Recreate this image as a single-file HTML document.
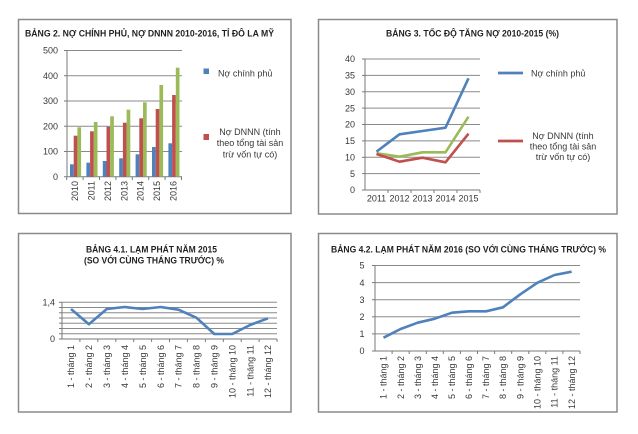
<!DOCTYPE html>
<html>
<head>
<meta charset="utf-8">
<style>
html,body{margin:0;padding:0;background:#fff;}
svg{display:block;}
text{font-family:"Liberation Sans","DejaVu Sans",sans-serif;}
.t{font-weight:bold;fill:#231f20;font-size:9.5px;}
.k{fill:#383838;font-size:9px;}
.g{stroke:#8a8a8a;stroke-width:1;}
.a{stroke:#7a7a7a;stroke-width:1;}
.b{fill:none;stroke:#8a8a8a;stroke-width:1.5;}
</style>
</head>
<body>
<svg width="638" height="434" viewBox="0 0 638 434" xmlns="http://www.w3.org/2000/svg">
<rect width="638" height="434" fill="#fff"/>

<!-- ================= PANEL 1 ================= -->
<rect class="b" x="18.5" y="19.5" width="272.5" height="194"/>
<text class="t" x="25" y="36.5" textLength="249" lengthAdjust="spacingAndGlyphs">BẢNG 2. NỢ CHÍNH PHỦ, NỢ DNNN 2010-2016, TỈ ĐÔ LA MỸ</text>
<g>
<line class="g" x1="67" y1="50.5" x2="182" y2="50.5"/>
<line class="g" x1="67" y1="75.7" x2="182" y2="75.7"/>
<line class="g" x1="67" y1="101" x2="182" y2="101"/>
<line class="g" x1="67" y1="126.2" x2="182" y2="126.2"/>
<line class="g" x1="67" y1="151.5" x2="182" y2="151.5"/>
<line class="a" x1="64" y1="176.7" x2="182" y2="176.7"/>
<line class="a" x1="67" y1="50.5" x2="67" y2="176.7"/>
<line class="a" x1="64" y1="50.5" x2="67" y2="50.5"/>
<line class="a" x1="64" y1="75.7" x2="67" y2="75.7"/>
<line class="a" x1="64" y1="101" x2="67" y2="101"/>
<line class="a" x1="64" y1="126.2" x2="67" y2="126.2"/>
<line class="a" x1="64" y1="151.5" x2="67" y2="151.5"/>
</g>
<g class="a">
<line x1="66.7" y1="176.7" x2="66.7" y2="180"/>
<line x1="83.1" y1="176.7" x2="83.1" y2="180"/>
<line x1="99.5" y1="176.7" x2="99.5" y2="180"/>
<line x1="115.9" y1="176.7" x2="115.9" y2="180"/>
<line x1="132.3" y1="176.7" x2="132.3" y2="180"/>
<line x1="148.7" y1="176.7" x2="148.7" y2="180"/>
<line x1="165.1" y1="176.7" x2="165.1" y2="180"/>
<line x1="181.5" y1="176.7" x2="181.5" y2="180"/>
</g>
<g class="k" text-anchor="end">
<text x="58" y="53.7">500</text>
<text x="58" y="78.9">400</text>
<text x="58" y="104.2">300</text>
<text x="58" y="129.4">200</text>
<text x="58" y="154.7">100</text>
<text x="58" y="179.9">0</text>
</g>
<g fill="#4f81bd">
<rect x="70.0" y="164.3" width="3.7" height="12.4"/>
<rect x="86.4" y="162.7" width="3.7" height="14.0"/>
<rect x="102.8" y="161.0" width="3.7" height="15.7"/>
<rect x="119.2" y="158.3" width="3.7" height="18.4"/>
<rect x="135.6" y="154.3" width="3.7" height="22.4"/>
<rect x="152.0" y="147.0" width="3.7" height="29.7"/>
<rect x="168.4" y="143.3" width="3.7" height="33.4"/>
</g>
<g fill="#c0504d">
<rect x="73.7" y="135.7" width="3.7" height="41.0"/>
<rect x="90.1" y="131.3" width="3.7" height="45.4"/>
<rect x="106.5" y="126.7" width="3.7" height="50.0"/>
<rect x="122.9" y="122.7" width="3.7" height="54.0"/>
<rect x="139.3" y="118.3" width="3.7" height="58.4"/>
<rect x="155.7" y="109.0" width="3.7" height="67.7"/>
<rect x="172.1" y="95.0" width="3.7" height="81.7"/>
</g>
<g fill="#9bbb59">
<rect x="77.4" y="127.3" width="3.7" height="49.4"/>
<rect x="93.8" y="122.0" width="3.7" height="54.7"/>
<rect x="110.2" y="116.3" width="3.7" height="60.4"/>
<rect x="126.6" y="109.7" width="3.7" height="67.0"/>
<rect x="143.0" y="102.3" width="3.7" height="74.4"/>
<rect x="159.4" y="85.0" width="3.7" height="91.7"/>
<rect x="175.8" y="67.7" width="3.7" height="109.0"/>
</g>
<g class="k" text-anchor="end">
<text transform="translate(78.1,181) rotate(-90)">2010</text>
<text transform="translate(94.5,181) rotate(-90)">2011</text>
<text transform="translate(110.9,181) rotate(-90)">2012</text>
<text transform="translate(127.3,181) rotate(-90)">2013</text>
<text transform="translate(143.7,181) rotate(-90)">2014</text>
<text transform="translate(160.1,181) rotate(-90)">2015</text>
<text transform="translate(176.5,181) rotate(-90)">2016</text>
</g>
<rect x="203.5" y="68.5" width="5.5" height="5.5" fill="#4f81bd"/>
<text class="k" x="218" y="76.3">Nợ chính phủ</text>
<rect x="203.5" y="134" width="5.5" height="6" fill="#c0504d"/>
<g class="k" text-anchor="middle">
<text x="250" y="134.8">Nợ DNNN (tính</text>
<text x="250" y="146">theo tổng tài sản</text>
<text x="250" y="157.4">trừ vốn tự có)</text>
</g>

<!-- ================= PANEL 2 ================= -->
<rect class="b" x="318.5" y="19.5" width="298.5" height="194.5"/>
<text class="t" x="386" y="36.5" textLength="173" lengthAdjust="spacingAndGlyphs">BẢNG 3. TỐC ĐỘ TĂNG NỢ 2010-2015 (%)</text>
<g>
<line class="g" x1="365" y1="59" x2="480" y2="59"/>
<line class="g" x1="365" y1="75.4" x2="480" y2="75.4"/>
<line class="g" x1="365" y1="91.8" x2="480" y2="91.8"/>
<line class="g" x1="365" y1="108.1" x2="480" y2="108.1"/>
<line class="g" x1="365" y1="124.5" x2="480" y2="124.5"/>
<line class="g" x1="365" y1="140.9" x2="480" y2="140.9"/>
<line class="g" x1="365" y1="157.3" x2="480" y2="157.3"/>
<line class="g" x1="365" y1="173.6" x2="480" y2="173.6"/>
<line class="a" x1="362" y1="190" x2="480" y2="190"/>
<line class="a" x1="365" y1="59" x2="365" y2="190"/>
</g>
<g class="a">
<line x1="362" y1="59" x2="365" y2="59"/>
<line x1="362" y1="75.4" x2="365" y2="75.4"/>
<line x1="362" y1="91.8" x2="365" y2="91.8"/>
<line x1="362" y1="108.1" x2="365" y2="108.1"/>
<line x1="362" y1="124.5" x2="365" y2="124.5"/>
<line x1="362" y1="140.9" x2="365" y2="140.9"/>
<line x1="362" y1="157.3" x2="365" y2="157.3"/>
<line x1="362" y1="173.6" x2="365" y2="173.6"/>
<line x1="388" y1="190" x2="388" y2="193"/>
<line x1="411" y1="190" x2="411" y2="193"/>
<line x1="434" y1="190" x2="434" y2="193"/>
<line x1="457" y1="190" x2="457" y2="193"/>
<line x1="480" y1="190" x2="480" y2="193"/>
</g>
<g class="k" text-anchor="end">
<text x="355" y="62.2">40</text>
<text x="355" y="78.6">35</text>
<text x="355" y="95">30</text>
<text x="355" y="111.3">25</text>
<text x="355" y="127.7">20</text>
<text x="355" y="144.1">15</text>
<text x="355" y="160.5">10</text>
<text x="355" y="176.8">5</text>
<text x="355" y="193.2">0</text>
</g>
<g class="k" text-anchor="middle">
<text x="376.5" y="201.3">2011</text>
<text x="399.5" y="201.3">2012</text>
<text x="422.5" y="201.3">2013</text>
<text x="445.5" y="201.3">2014</text>
<text x="468.5" y="201.3">2015</text>
</g>
<polyline fill="none" stroke="#9bbb59" stroke-width="2.6" stroke-linejoin="round" points="376.5,153.3 399.5,156.7 422.5,152.3 445.5,152.3 468.5,116.7"/>
<polyline fill="none" stroke="#c0504d" stroke-width="2.6" stroke-linejoin="round" points="376.5,154 399.5,161.7 422.5,157.7 445.5,162.3 468.5,133.7"/>
<polyline fill="none" stroke="#4f81bd" stroke-width="2.6" stroke-linejoin="round" points="376.5,151.7 399.5,134.3 422.5,131 445.5,127.7 468.5,78.3"/>
<line x1="498" y1="73" x2="523" y2="73" stroke="#4f81bd" stroke-width="2.8"/>
<text class="k" x="531" y="76.3">Nợ chính phủ</text>
<line x1="498" y1="141" x2="523" y2="141" stroke="#c0504d" stroke-width="2.8"/>
<g class="k" text-anchor="middle">
<text x="563" y="139.2">Nợ DNNN (tính</text>
<text x="563" y="149.6">theo tổng tài sản</text>
<text x="563" y="160">trừ vốn tự có)</text>
</g>

<!-- ================= PANEL 3 ================= -->
<rect class="b" x="18.5" y="233.5" width="272.5" height="178.5"/>
<text class="t" x="86" y="252.5" textLength="131" lengthAdjust="spacingAndGlyphs">BẢNG 4.1. LẠM PHÁT NĂM 2015</text>
<text class="t" x="84" y="263.5" textLength="140" lengthAdjust="spacingAndGlyphs">(SO VỚI CÙNG THÁNG TRƯỚC) %</text>
<g>
<line class="g" x1="62" y1="302.3" x2="277" y2="302.3"/>
<line class="g" x1="62" y1="307.5" x2="277" y2="307.5"/>
<line class="g" x1="62" y1="312.8" x2="277" y2="312.8"/>
<line class="g" x1="62" y1="318" x2="277" y2="318"/>
<line class="g" x1="62" y1="323.2" x2="277" y2="323.2"/>
<line class="g" x1="62" y1="328.5" x2="277" y2="328.5"/>
<line class="g" x1="62" y1="333.8" x2="277" y2="333.8"/>
<line class="a" x1="59" y1="339" x2="277" y2="339"/>
<line class="a" x1="62" y1="302.3" x2="62" y2="339"/>
</g>
<g class="a">
<line x1="59" y1="302.3" x2="62" y2="302.3"/>
<line x1="59" y1="307.5" x2="62" y2="307.5"/>
<line x1="59" y1="312.8" x2="62" y2="312.8"/>
<line x1="59" y1="318" x2="62" y2="318"/>
<line x1="59" y1="323.2" x2="62" y2="323.2"/>
<line x1="59" y1="328.5" x2="62" y2="328.5"/>
<line x1="59" y1="333.8" x2="62" y2="333.8"/>
<line x1="79.9" y1="339" x2="79.9" y2="342"/>
<line x1="97.8" y1="339" x2="97.8" y2="342"/>
<line x1="115.8" y1="339" x2="115.8" y2="342"/>
<line x1="133.7" y1="339" x2="133.7" y2="342"/>
<line x1="151.6" y1="339" x2="151.6" y2="342"/>
<line x1="169.5" y1="339" x2="169.5" y2="342"/>
<line x1="187.4" y1="339" x2="187.4" y2="342"/>
<line x1="205.4" y1="339" x2="205.4" y2="342"/>
<line x1="223.3" y1="339" x2="223.3" y2="342"/>
<line x1="241.2" y1="339" x2="241.2" y2="342"/>
<line x1="259.1" y1="339" x2="259.1" y2="342"/>
<line x1="277" y1="339" x2="277" y2="342"/>
</g>
<g class="k" text-anchor="end">
<text x="55" y="305.5">1,4</text>
<text x="55" y="342.2">0</text>
</g>
<g class="k" text-anchor="end">
<text transform="translate(74.2,345) rotate(-90)">1 - tháng 1</text>
<text transform="translate(92.1,345) rotate(-90)">2 - tháng 2</text>
<text transform="translate(110,345) rotate(-90)">3 - tháng 3</text>
<text transform="translate(127.9,345) rotate(-90)">4 - tháng 4</text>
<text transform="translate(145.8,345) rotate(-90)">5 - tháng 5</text>
<text transform="translate(163.8,345) rotate(-90)">6 - tháng 6</text>
<text transform="translate(181.7,345) rotate(-90)">7 - tháng 7</text>
<text transform="translate(199.6,345) rotate(-90)">8 - tháng 8</text>
<text transform="translate(217.5,345) rotate(-90)">9 - tháng 9</text>
<text transform="translate(235.4,345) rotate(-90)">10 - tháng 10</text>
<text transform="translate(253.3,345) rotate(-90)">11 - tháng 11</text>
<text transform="translate(271.2,345) rotate(-90)">12 - tháng 12</text>
</g>
<polyline fill="none" stroke="#4f81bd" stroke-width="2.6" stroke-linejoin="round" points="71,309 88.9,324.3 106.8,309 124.7,307 142.6,309 160.6,307 178.5,309.7 196.4,317.7 214.3,334 232.2,334 250.1,325 268,318.3"/>

<!-- ================= PANEL 4 ================= -->
<rect class="b" x="318.5" y="233.5" width="298.5" height="178.5"/>
<text class="t" x="331" y="252.5" textLength="275" lengthAdjust="spacingAndGlyphs">BẢNG 4.2. LẠM PHÁT NĂM 2016 (SO VỚI CÙNG THÁNG TRƯỚC) %</text>
<g>
<line class="g" x1="375" y1="265.5" x2="580" y2="265.5"/>
<line class="g" x1="375" y1="282.6" x2="580" y2="282.6"/>
<line class="g" x1="375" y1="299.7" x2="580" y2="299.7"/>
<line class="g" x1="375" y1="316.8" x2="580" y2="316.8"/>
<line class="g" x1="375" y1="333.9" x2="580" y2="333.9"/>
<line class="a" x1="372" y1="351" x2="580" y2="351"/>
<line class="a" x1="375" y1="265.5" x2="375" y2="351"/>
</g>
<g class="a">
<line x1="372" y1="265.5" x2="375" y2="265.5"/>
<line x1="372" y1="282.6" x2="375" y2="282.6"/>
<line x1="372" y1="299.7" x2="375" y2="299.7"/>
<line x1="372" y1="316.8" x2="375" y2="316.8"/>
<line x1="372" y1="333.9" x2="375" y2="333.9"/>
<line x1="392.1" y1="351" x2="392.1" y2="354"/>
<line x1="409.2" y1="351" x2="409.2" y2="354"/>
<line x1="426.3" y1="351" x2="426.3" y2="354"/>
<line x1="443.3" y1="351" x2="443.3" y2="354"/>
<line x1="460.4" y1="351" x2="460.4" y2="354"/>
<line x1="477.5" y1="351" x2="477.5" y2="354"/>
<line x1="494.6" y1="351" x2="494.6" y2="354"/>
<line x1="511.7" y1="351" x2="511.7" y2="354"/>
<line x1="528.8" y1="351" x2="528.8" y2="354"/>
<line x1="545.8" y1="351" x2="545.8" y2="354"/>
<line x1="562.9" y1="351" x2="562.9" y2="354"/>
<line x1="580" y1="351" x2="580" y2="354"/>
</g>
<g class="k" text-anchor="end">
<text x="364.5" y="268.7">5</text>
<text x="364.5" y="285.8">4</text>
<text x="364.5" y="302.9">3</text>
<text x="364.5" y="320">2</text>
<text x="364.5" y="337.1">1</text>
<text x="364.5" y="354.2">0</text>
</g>
<g class="k" text-anchor="end">
<text transform="translate(386.7,356) rotate(-90)">1 - tháng 1</text>
<text transform="translate(403.8,356) rotate(-90)">2 - tháng 2</text>
<text transform="translate(420.9,356) rotate(-90)">3 - tháng 3</text>
<text transform="translate(438,356) rotate(-90)">4 - tháng 4</text>
<text transform="translate(455.2,356) rotate(-90)">5 - tháng 5</text>
<text transform="translate(472.2,356) rotate(-90)">6 - tháng 6</text>
<text transform="translate(489.2,356) rotate(-90)">7 - tháng 7</text>
<text transform="translate(506.2,356) rotate(-90)">8 - tháng 8</text>
<text transform="translate(523.5,356) rotate(-90)">9 - tháng 9</text>
<text transform="translate(540.7,356) rotate(-90)">10 - tháng 10</text>
<text transform="translate(557.7,356) rotate(-90)">11 - tháng 11</text>
<text transform="translate(574.8,356) rotate(-90)">12 - tháng 12</text>
</g>
<polyline fill="none" stroke="#4f81bd" stroke-width="2.6" stroke-linejoin="round" points="383.5,337.7 400.6,329 417.7,322.7 434.8,318.7 452,312.7 469,311.3 486,311.3 503,307.3 520.3,294.3 537.5,282.7 554.5,275 571.6,271.7"/>
</svg>
</body>
</html>
